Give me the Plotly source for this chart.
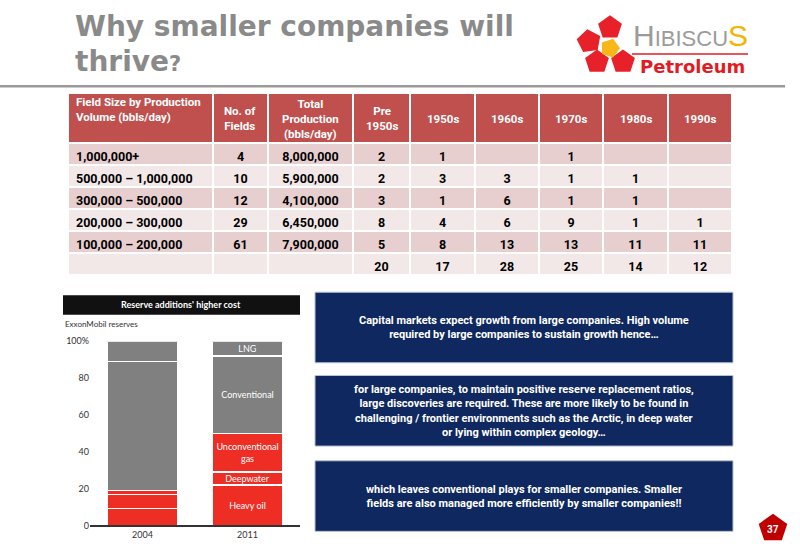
import math
import plotly.graph_objects as go

W, H = 800, 554

# ── data: field size table ──────────────────────────
header_labels = ["Field Size by Production<br>Volume (bbls/day)", "No. of<br>Fields",
                 "Total<br>Production<br>(bbls/day)", "Pre<br>1950s",
                 "1950s", "1960s", "1970s", "1980s", "1990s"]
field_sizes = ["1,000,000+", "500,000 – 1,000,000", "300,000 – 500,000",
               "200,000 – 300,000", "100,000 – 200,000", ""]
no_of_fields = ["4", "10", "12", "29", "61", ""]
total_production = ["8,000,000", "5,900,000", "4,100,000", "6,450,000", "7,900,000", ""]
pre_1950s = ["2", "2", "3", "8", "5", "20"]
d1950s = ["1", "3", "1", "4", "8", "17"]
d1960s = ["", "3", "6", "6", "13", "28"]
d1970s = ["1", "1", "1", "9", "13", "25"]
d1980s = ["", "1", "1", "1", "11", "14"]
d1990s = ["", "", "", "1", "11", "12"]
col_widths = [145, 55, 85, 57, 65, 64, 64, 65, 64]

# ── data: ExxonMobil reserves chart ─────────────────
years = ["2004", "2011"]
heavy_oil = [9, 22]
deepwater = [8, 7]
unconv_gas = [2, 21]
conventional = [70, 42]
lng = [11, 8]

# ── text boxes ──────────────────────────────────────
box_texts = [
    "Capital markets expect growth from large companies. High volume<br>"
    "required by large companies to sustain growth hence…",
    "for large companies, to maintain positive reserve replacement ratios,<br>"
    "large discoveries are required. These are more likely to be found in<br>"
    "challenging / frontier environments such as the Arctic, in deep water<br>"
    "or lying within complex geology…",
    "which leaves conventional plays for smaller companies. Smaller<br>"
    "fields are also managed more efficiently by smaller companies!!",
]


def px(x):
    return x / W


def py(y):
    return 1 - y / H


def pentagon(cx, cy, r, ang):
    pts = []
    for k in range(5):
        a = math.radians(ang + 72 * k)
        pts.append((px(cx + r * math.cos(a)), py(cy + r * math.sin(a))))
    return "M " + " L ".join(f"{x:.5f},{y:.5f}" for x, y in pts) + " Z"


RED = "#EE2D24"
GRAY = "#808080"
NAVY = "#0F2860"
TFONT = "Liberation Sans Narrow, Arial Narrow, Roboto, sans-serif"

fig = go.Figure()

# ── table (header text drawn as annotations below) ──
TX0, TY0, HEAD_H, ROW_H = 68, 93, 50, 22
row_fill = ["#E7CFCF", "#F3E8E8"] * 3
fig.add_trace(go.Table(
    domain=dict(x=[px(TX0), px(TX0 + sum(col_widths))], y=[py(286), py(TY0 - 4)]),
    columnwidth=col_widths,
    header=dict(
        values=[""] * len(header_labels),
        fill_color="#C0504D",
        line=dict(color="white", width=2),
        height=HEAD_H,
    ),
    cells=dict(
        values=[field_sizes, no_of_fields, total_production, pre_1950s,
                d1950s, d1960s, d1970s, d1980s, d1990s],
        fill_color=[row_fill] * 9,
        line=dict(color="white", width=2),
        align=["left"] + ["center"] * 8,
        font=dict(family=TFONT, size=12.5, color="black", weight="bold"),
        height=ROW_H,
    ),
))

# ── stacked bar chart ───────────────────────────────
segments = [
    ("Heavy oil", heavy_oil, RED),
    ("Deepwater", deepwater, RED),
    ("Unconventional<br>gas", unconv_gas, RED),
    ("Conventional", conventional, GRAY),
    ("LNG", lng, GRAY),
]
for name, vals, col in segments:
    fig.add_trace(go.Bar(
        x=years, y=vals, name=name,
        marker=dict(color=col, line=dict(color="white", width=1.2)),
        text=["", name], textposition="inside", insidetextanchor="middle",
        textangle=0, constraintext="none",
        textfont=dict(family="Lato, sans-serif", size=9, color="white"),
        hoverinfo="skip", showlegend=False,
    ))

fig.update_layout(
    width=W, height=H,
    margin=dict(l=0, r=0, t=0, b=0),
    paper_bgcolor="white", plot_bgcolor="white",
    barmode="stack", bargap=0.324,
    xaxis=dict(domain=[px(90), px(300)], showline=True, linecolor="#333333",
               linewidth=1.5, ticks="", showgrid=False,
               tickfont=dict(family="Lato, sans-serif", size=9, color="#333333")),
    yaxis=dict(domain=[py(530), py(342)], range=[0, 100], showgrid=False,
               zeroline=False, showline=False,
               tickvals=[0, 20, 40, 60, 80, 100],
               ticktext=["0", "20", "40", "60", "80", "100%"],
               tickfont=dict(family="Lato, sans-serif", size=9, color="#333333")),
)

shapes = []
ann = []

# table header labels
x_left = TX0
for i, (lab, w) in enumerate(zip(header_labels, col_widths)):
    if i == 0:
        ann.append(dict(x=px(x_left + 6), y=py(TY0 + 13), xanchor="left", align="left",
                        text=f"<b>{lab}</b>",
                        font=dict(family=TFONT, size=11.5, color="white")))
    else:
        ann.append(dict(x=px(x_left + w / 2), y=py(TY0 + HEAD_H / 2 - 3),
                        text=f"<b>{lab}</b>",
                        font=dict(family=TFONT, size=11.5, color="white")))
    x_left += w

# title rule
shapes.append(dict(type="line", xref="paper", yref="paper", x0=0, x1=px(785),
                   y0=py(82), y1=py(82), line=dict(color="#9A9A9A", width=2.5)))

# chart header bar
shapes.append(dict(type="rect", xref="paper", yref="paper", x0=px(63), x1=px(300),
                   y0=py(315), y1=py(295), fillcolor="#111111", line=dict(width=0)))
ann.append(dict(x=px(181), y=py(305), text="<b>Reserve additions' higher cost</b>",
                font=dict(family="Lato, sans-serif", size=9, color="white")))
ann.append(dict(x=px(63), y=py(324), xanchor="left", text="ExxonMobil reserves",
                font=dict(family="Lato, sans-serif", size=8, color="#333333")))

# navy boxes
box_y = [(292, 364), (377, 449), (464, 536)]
for (y0, y1), txt in zip(box_y, box_texts):
    shapes.append(dict(type="rect", xref="paper", yref="paper", x0=px(315), x1=px(733),
                       y0=py(y1), y1=py(y0), fillcolor=NAVY,
                       line=dict(color="#B7C2D6", width=1)))
    ann.append(dict(x=px(524), y=py((y0 + y1) / 2), text=f"<b>{txt}</b>", align="center",
                    font=dict(family="Roboto, sans-serif", size=11, color="white")))

# page number
shapes.append(dict(type="path", xref="paper", yref="paper",
                   path=pentagon(773, 533, 15, -90), fillcolor="#C00000", line=dict(width=0)))
ann.append(dict(x=px(773), y=py(534), text="<b>37</b>",
                font=dict(family="Roboto, sans-serif", size=10, color="white")))

# title
title_font = dict(family="DejaVu Sans, sans-serif", size=28, color="#8A8A8A")
ann.append(dict(x=px(73), y=py(21), xanchor="left", text="<b>Why smaller companies will</b>",
                font=title_font))
ann.append(dict(x=px(73), y=py(57), xanchor="left",
                text="<b>thrive<span style='font-size:21px'>?</span></b>", font=title_font))

# logo
for cx, cy, ang in [(610, 22, -90), (589, 36, 190), (597, 57, 126), (623, 57, 54)]:
    shapes.append(dict(type="path", xref="paper", yref="paper",
                       path=pentagon(cx, cy, 12.5, ang), fillcolor="#E8202A",
                       line=dict(width=0)))
shapes.append(dict(type="path", xref="paper", yref="paper",
                   path=pentagon(610, 43, 10, 0), fillcolor="#F7B718", line=dict(width=0)))
ann.append(dict(x=px(631), y=py(30), xanchor="left",
                text="H<span style='font-size:22px'>IBISCU</span>"
                     "<span style='color:#F5B400'>S</span>",
                font=dict(family="Liberation Sans, Arial, sans-serif", size=30, color="#9B9B9B")))
shapes.append(dict(type="line", xref="paper", yref="paper", x0=px(632), x1=px(748),
                   y0=py(49), y1=py(49), line=dict(color="#E31B23", width=1.5)))
ann.append(dict(x=px(638), y=py(62), xanchor="left", text="<b>Petroleum</b>",
                font=dict(family="DejaVu Sans, sans-serif", size=18, color="#E31B23")))

for a in ann:
    a.setdefault("xref", "paper")
    a.setdefault("yref", "paper")
    a.setdefault("xanchor", "center")
    a.setdefault("yanchor", "middle")
    a["showarrow"] = False

fig.update_layout(shapes=shapes, annotations=ann)
fig.write_html("out.html", config={"displayModeBar": False},
               post_script="document.body.style.margin='0';")
